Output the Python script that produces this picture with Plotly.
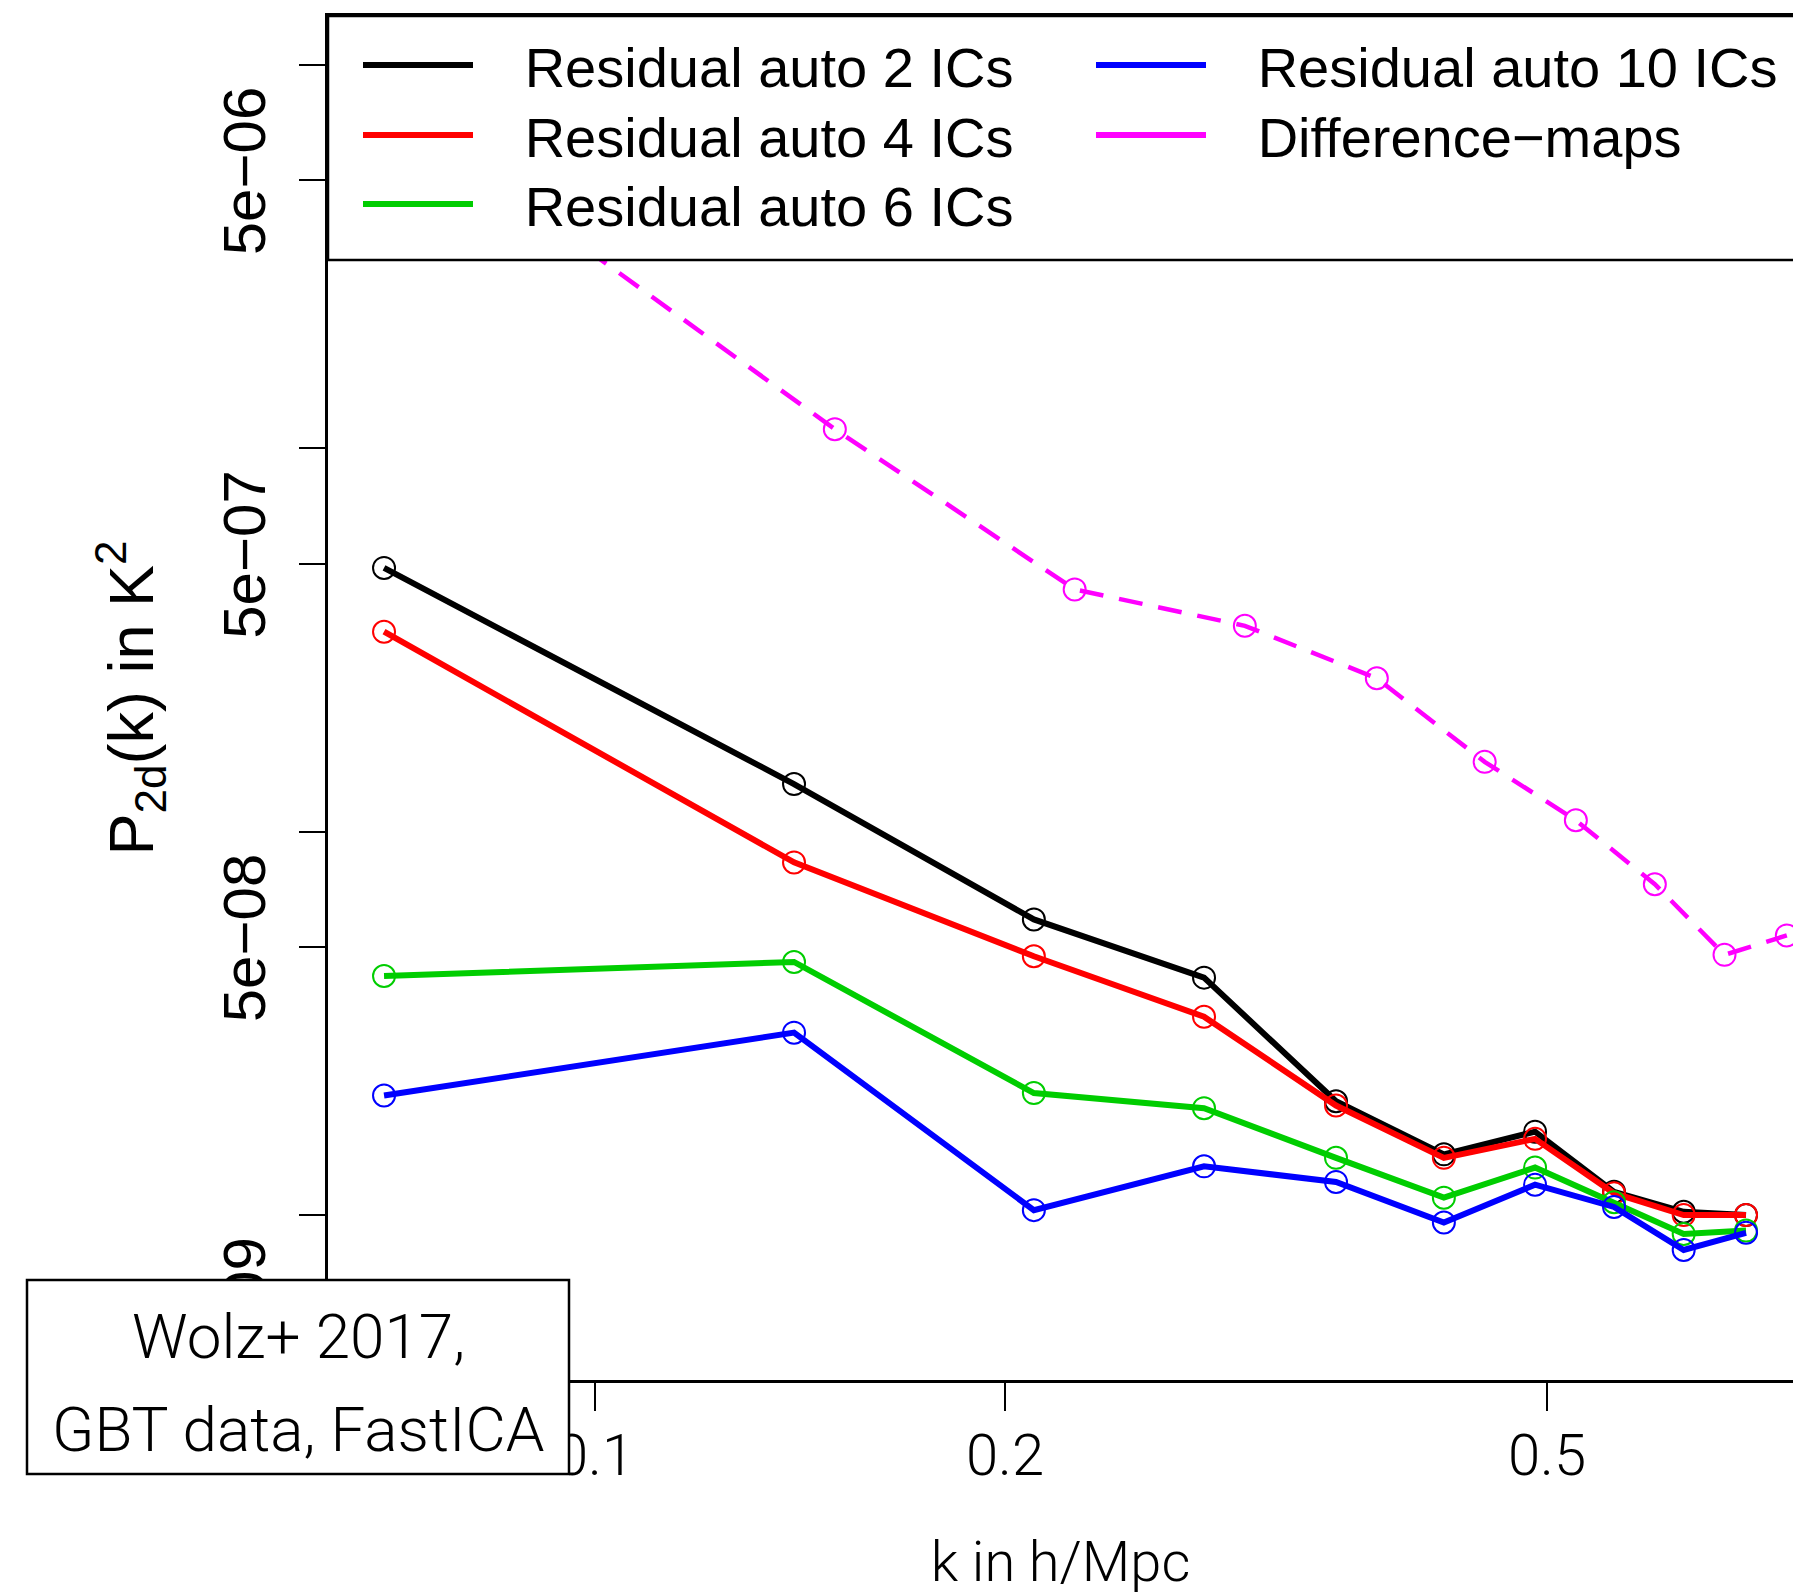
import plotly.graph_objects as go

# k bins (h/Mpc) of the residual ICA auto spectra and of the difference maps
k_ics = [0.07, 0.14, 0.21, 0.28, 0.35, 0.42, 0.49, 0.56, 0.63, 0.70]
k_diff = [0.075, 0.15, 0.225, 0.30, 0.375, 0.45, 0.525, 0.60, 0.675, 0.75]

# P_2d(k) in K^2
p_2ics = [4.87e-7, 1.33e-7, 5.90e-8, 4.16e-8, 1.98e-8, 1.44e-8, 1.65e-8, 1.15e-8, 1.02e-8, 1.00e-8]
p_4ics = [3.32e-7, 8.31e-8, 4.73e-8, 3.29e-8, 1.93e-8, 1.41e-8, 1.58e-8, 1.14e-8, 1.00e-8, 1.00e-8]
p_6ics = [4.20e-8, 4.57e-8, 2.08e-8, 1.90e-8, 1.41e-8, 1.11e-8, 1.33e-8, 1.08e-8, 8.93e-9, 9.11e-9]
p_10ics = [2.05e-8, 2.99e-8, 1.03e-8, 1.34e-8, 1.22e-8, 9.56e-9, 1.20e-8, 1.05e-8, 8.11e-9, 8.99e-9]
p_diff = [6.66e-6, 1.12e-6, 4.28e-7, 3.44e-7, 2.51e-7, 1.52e-7, 1.07e-7, 7.29e-8, 4.77e-8, 5.36e-8]

series_names = ["Residual auto 2 ICs", "Residual auto 4 ICs", "Residual auto 6 ICs",
                "Residual auto 10 ICs", "Difference\u2212maps"]
series_colors = ["#000000", "#FF0000", "#00CD00", "#0000FF", "#FF00FF"]

x_tickvals = [0.1, 0.2, 0.5]
x_ticktext = ["0.1", "0.2", "0.5"]
y_tickvals = [5e-6, 5e-7, 5e-8, 5e-9]
y_ticktext = ["5e\u221206", "5e\u221207", "5e\u221208", "5e\u221209"]
y_minor_tickvals = [1e-5, 1e-6, 1e-7, 1e-8]

note_lines = ["Wolz+ 2017,", "GBT data, FastICA"]

W, H = 1793, 1596
L, R, T, B = 328, 0, 16, 216
PW, PH = W - L - R, H - T - B


def px(xpix):
    return (xpix - L) / PW


def py(ypix):
    return (H - B - ypix) / PH


HELV = "Liberation Sans, Arial, sans-serif"
LEG_FONT = dict(family=HELV, size=56, color="#000000")
LIGHT = dict(family="Roboto, Liberation Sans, sans-serif", weight=300, color="#000000")

fig = go.Figure()

ys = [p_2ics, p_4ics, p_6ics, p_10ics]
for name, col, yv in zip(series_names[:4], series_colors[:4], ys):
    fig.add_trace(go.Scatter(
        x=k_ics, y=yv, mode="lines+markers", showlegend=False,
        line=dict(color=col, width=6),
        marker=dict(symbol="circle-open", size=22, color=col, line=dict(width=2, color=col)),
    ))

fig.add_trace(go.Scatter(
    x=k_diff, y=p_diff, mode="lines+markers", showlegend=False,
    line=dict(color=series_colors[4], width=4.5, dash="24px,16px"),
    marker=dict(symbol="circle-open", size=22, color=series_colors[4],
                line=dict(width=2, color=series_colors[4])),
))

# legend keys: two columns, one legend box per entry
legend_slots = [(358, 65), (358, 135), (358, 204), (1091, 65), (1091, 135)]
legend_layouts = {}
for i, (name, col, (lx, ly)) in enumerate(zip(series_names, series_colors, legend_slots)):
    lid = "legend" if i == 0 else f"legend{i + 1}"
    fig.add_trace(go.Scatter(
        x=[None], y=[None], mode="lines", name="\u00a0\u00a0\u00a0" + name,
        line=dict(color=col, width=6), legend=lid, showlegend=True,
    ))
    legend_layouts[lid] = dict(
        x=px(lx), y=py(ly), xref="paper", yref="paper",
        xanchor="left", yanchor="middle",
        bgcolor="rgba(0,0,0,0)", borderwidth=0,
        font=LEG_FONT, itemwidth=110,
    )

shapes = [
    # legend frame
    dict(type="rect", xref="paper", yref="paper", x0=0, x1=1.05, y0=py(260), y1=1,
         line=dict(color="#000000", width=2.5), fillcolor="#FFFFFF", layer="above"),
    # citation box
    dict(type="rect", xref="paper", yref="paper", x0=px(27), x1=px(569), y0=py(1474), y1=py(1280),
         line=dict(color="#000000", width=2.5), fillcolor="#FFFFFF", layer="above"),
]

annotations = [
    dict(text=note_lines[0], x=px(298), y=py(1336), xref="paper", yref="paper",
         showarrow=False, xanchor="center", yanchor="middle", font=dict(LIGHT, size=62)),
    dict(text=note_lines[1], x=px(298), y=py(1429), xref="paper", yref="paper",
         showarrow=False, xanchor="center", yanchor="middle", font=dict(LIGHT, size=62)),
]

fig.update_layout(
    width=W, height=H,
    margin=dict(l=L, r=R, t=T, b=B, pad=0),
    paper_bgcolor="#FFFFFF", plot_bgcolor="#FFFFFF",
    shapes=shapes, annotations=annotations,
    **legend_layouts,
    xaxis=dict(
        type="log", range=[-1.19604, -0.12041],
        tickvals=x_tickvals, ticktext=x_ticktext,
        ticks="outside", ticklen=28, tickwidth=2, tickcolor="#000000",
        tickfont=dict(LIGHT, size=58), ticklabelstandoff=-5,
        showline=True, linecolor="#000000", linewidth=2.5, mirror=True,
        showgrid=False, zeroline=False, automargin=False,
        title=dict(text="k in h/Mpc", font=dict(LIGHT, size=56), standoff=54),
    ),
    yaxis=dict(
        type="log", range=[-8.4301, -4.87339],
        tickvals=y_tickvals, ticktext=y_ticktext, tickangle=-90,
        ticks="outside", ticklen=26, tickwidth=2, tickcolor="#000000",
        minor=dict(tickvals=y_minor_tickvals, ticks="outside", ticklen=26,
                   tickwidth=2, tickcolor="#000000", showgrid=False),
        tickfont=dict(family=HELV, size=60, color="#000000"),
        ticklabelstandoff=10,
        showline=True, linecolor="#000000", linewidth=2.5, mirror=False,
        showgrid=False, zeroline=False, automargin=False,
        title=dict(text="P<sub>2d</sub>(k) in K<sup>2</sup>",
                   font=dict(family=HELV, size=63, color="#000000"), standoff=38),
    ),
)

fig.write_html("out.html")
